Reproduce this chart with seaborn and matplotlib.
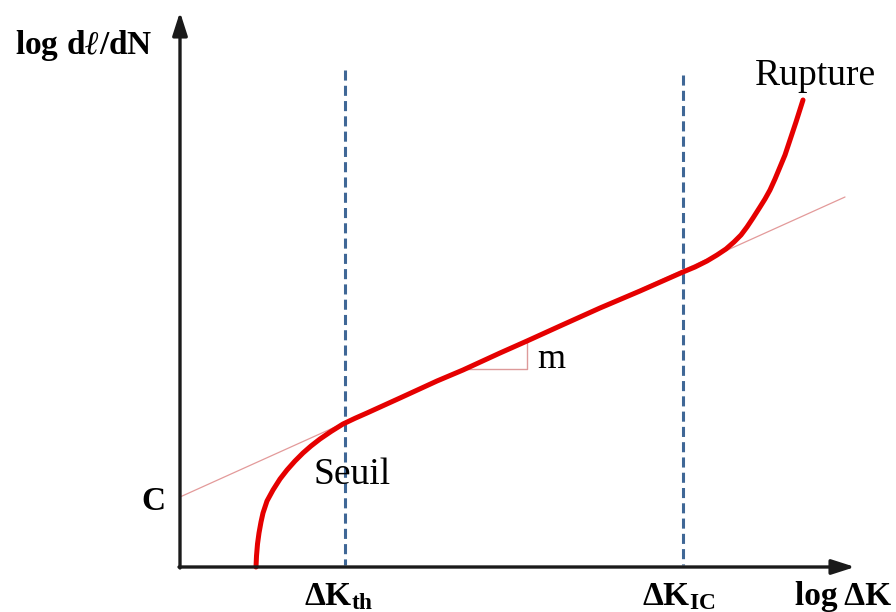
import matplotlib.pyplot as plt
import pandas as pd
import seaborn as sns

sns.set_style('white')
plt.rcParams['font.family'] = ['Liberation Serif', 'DejaVu Serif']
plt.rcParams['text.color'] = 'black'
plt.rcParams['mathtext.fontset'] = 'custom'
plt.rcParams['mathtext.rm'] = 'Liberation Serif'
plt.rcParams['mathtext.bf'] = 'Liberation Serif:bold'
plt.rcParams['mathtext.it'] = 'Liberation Serif:italic:bold'

# crack growth curve (x = log dK, y = log dl/dN, screen units, y down)
curve_x = [256, 256.5, 257.5, 259, 261, 263, 267, 273, 280, 287, 295, 303, 311, 320, 331, 343,
           355, 367, 400, 437, 463, 500, 527, 560, 600, 640, 683, 695, 707, 717, 726, 734,
           741, 747, 753, 760, 765, 770, 775, 780, 785, 790, 796, 803]
curve_y = [567, 556, 544, 533, 522, 513, 501, 490, 479, 470, 461, 453, 446, 439, 431.5, 424,
           418.3, 413, 398, 381, 370, 353, 341, 326, 308, 291, 272, 267, 261, 255, 249, 242,
           235, 227, 218, 207, 199, 190, 179, 167, 155, 140, 122, 100]

# Paris law straight line
paris_x = [180, 845]
paris_y = [497, 197]

# slope triangle
tri_x = [463, 527, 527]
tri_y = [369, 369, 340]

dk_th = 345
dk_ic = 683
x0, y0 = 180, 567      # axes origin
x_end, y_end = 855, 12  # arrow tips
dash_top = [70, 75]

df = pd.DataFrame({'dK': curve_x, 'dadN': curve_y})

fig = plt.figure(figsize=(8.96, 6.12), dpi=100)
ax = fig.add_axes([0, 0, 1, 1])

# axes with arrows
ax.annotate('', xy=(x_end, y0), xytext=(x0 - 1, y0),
            arrowprops=dict(arrowstyle='-|>,head_length=1.4,head_width=0.45',
                            color='#1a1a1a', lw=2.4, shrinkA=0, shrinkB=0))
ax.annotate('', xy=(x0, y_end), xytext=(x0, y0 + 1),
            arrowprops=dict(arrowstyle='-|>,head_length=1.4,head_width=0.45',
                            color='#1a1a1a', lw=2.4, shrinkA=0, shrinkB=0))

# threshold / toughness dashed lines
for xv, top in zip([dk_th, dk_ic], dash_top):
    ax.plot([xv, xv], [top, y0 - 2], color='#3f6796', lw=2.2,
            linestyle=(0, (3.3, 1.7)))

# Paris line and slope triangle
ax.plot(paris_x, paris_y, color='#e39a9a', lw=0.9)
ax.plot(tri_x, tri_y, color='#dd9a9a', lw=1.0)

sns.lineplot(data=df, x='dK', y='dadN', ax=ax, color='#e50000', lw=3.6,
             sort=False, estimator=None)
ax.lines[-1].set_solid_joinstyle('round')
ax.set_xlim(0, 896)
ax.set_ylim(612, 0)
ax.axis('off')

# labels
ax.text(15, 54, r'$\mathbf{log\ d}\ell\mathbf{/dN}$', fontsize=24, va='baseline')
ax.text(795, 605, 'log ΔK', fontsize=24, fontweight='bold', va='baseline')
ax.text(304, 605, r'$\mathbf{\Delta K_{th}}$', fontsize=24, va='baseline')
ax.text(642, 605, r'$\mathbf{\Delta K_{IC}}$', fontsize=24, va='baseline')
ax.text(141, 510, 'C', fontsize=24, fontweight='bold', va='baseline')
ax.text(313, 484, 'Seuil', fontsize=27, va='baseline')
ax.text(755, 85, 'Rupture', fontsize=27, va='baseline')
ax.text(537, 368, 'm', fontsize=26, va='baseline')

plt.savefig('out.png', dpi=100)
